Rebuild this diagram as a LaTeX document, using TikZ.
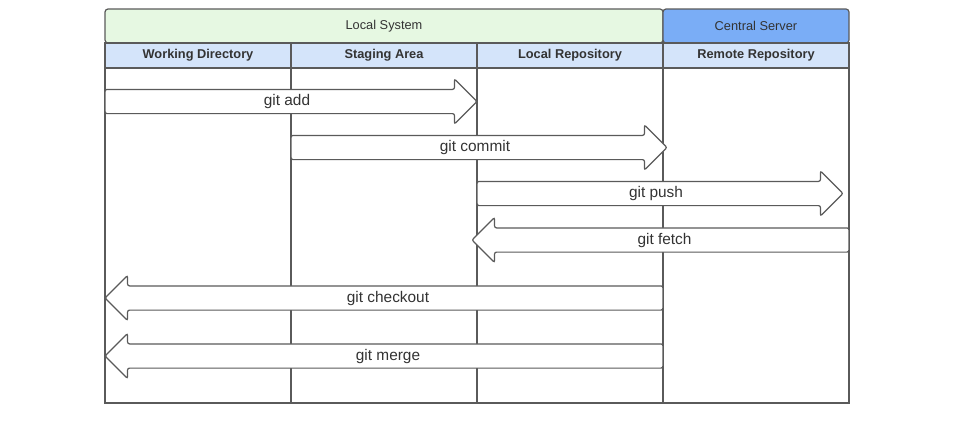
\documentclass[tikz,border=0pt]{standalone}
\usepackage{fontspec}
\setmainfont{Liberation Sans}
\usetikzlibrary{shapes.arrows}
\definecolor{edge}{HTML}{5A5A5A}
\definecolor{txt}{HTML}{333333}
\definecolor{lsgreen}{HTML}{E6F8E2}
\definecolor{csblue}{HTML}{7AADF6}
\definecolor{hdblue}{HTML}{D4E4FA}
\begin{document}
\begin{tikzpicture}[x=1pt,y=-1pt,
  cell/.style={draw=edge, line width=1.2pt, inner sep=0pt, text=txt},
  topcell/.style={cell, rounded corners=3pt, minimum height=34pt, font=\fontsize{12.8}{14}\selectfont},
  headcell/.style={cell, fill=hdblue, minimum width=186pt, minimum height=25pt, font=\fontsize{12.8}{14}\selectfont\bfseries},
  colbody/.style={cell, fill=white, minimum width=186pt, minimum height=335pt},
  blockarrow/.style={single arrow, draw=edge, fill=white, line width=1.2pt, text=txt,
    inner sep=0pt, text height=15.5pt, text depth=7.5pt,
    single arrow head extend=10.5pt,
    single arrow tip angle=90, rounded corners=2pt, anchor=center,
    font=\fontsize{15.4}{17}\selectfont}
]
\useasboundingbox (0,0) rectangle (980,431);
% column bodies
\node[colbody] (b1) at (198,235.5) {};
\node[colbody] (b2) at (384,235.5) {};
\node[colbody] (b3) at (570,235.5) {};
\node[colbody] (b4) at (756,235.5) {};
% header rows
\node[topcell, fill=lsgreen, minimum width=558pt] (ls) at (384,26) {Local System};
\node[topcell, fill=csblue, minimum width=186pt] (cs) at (756,26) {Central Server};
\node[headcell] (h1) at (198,55.5) {Working Directory};
\node[headcell] (h2) at (384,55.5) {Staging Area};
\node[headcell] (h3) at (570,55.5) {Local Repository};
\node[headcell] (h4) at (756,55.5) {Remote Repository};
% block arrows
\node[blockarrow, minimum height=372pt] (add) at (285,101.5) {\hspace*{4pt}git add};
\node[blockarrow, minimum height=376pt] (commit) at (473,147.5) {\hspace*{4pt}git commit};
\node[blockarrow, minimum height=366pt] (push) at (654,193.5) {\hspace*{4pt}git push};
\node[blockarrow, shape border rotate=180, minimum height=377pt] (fetch) at (666.5,240) {git fetch\hspace*{4pt}};
\node[blockarrow, shape border rotate=180, minimum height=558pt] (checkout) at (390,298) {git checkout\hspace*{4pt}};
\node[blockarrow, shape border rotate=180, minimum height=558pt] (merge) at (390,356) {git merge\hspace*{4pt}};
\end{tikzpicture}
\end{document}
